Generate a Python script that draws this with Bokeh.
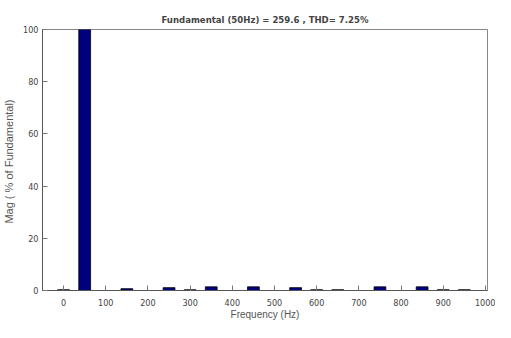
from bokeh.plotting import figure
from bokeh.models import Range1d, FixedTicker, ColumnDataSource
from bokeh.embed import file_html
from bokeh.resources import INLINE

freqs = [0, 50, 100, 150, 200, 250, 300, 350, 400, 450, 500, 550, 600, 650, 700, 750, 800, 850, 900, 950]
mags = [0.3, 100, 0.0, 0.7, 0.0, 1.1, 0.3, 1.4, 0.0, 1.4, 0.0, 1.1, 0.3, 0.3, 0.0, 1.4, 0.0, 1.4, 0.3, 0.3]
x_ticks = [0, 100, 200, 300, 400, 500, 600, 700, 800, 900, 1000]
y_ticks = [0, 20, 40, 60, 80, 100]
title_text = "Fundamental (50Hz) = 259.6 , THD= 7.25%"

NARROW = "'Liberation Sans Narrow', 'DejaVu Sans Condensed', 'Liberation Sans', sans-serif"

src = ColumnDataSource(dict(f=freqs, m=mags))

p = figure(width=495, height=322, output_backend="svg", toolbar_location=None,
           x_range=Range1d(-50, 1005), y_range=Range1d(0, 100),
           min_border_left=33, min_border_top=29, min_border_bottom=31, min_border_right=8)

p.vbar(x="f", top="m", width=28, source=src, fill_color="#00007F", line_color="black", line_width=0.8)

p.title.text = title_text
p.title.align = "center"
p.title.text_font = NARROW
p.title.text_font_size = "9.5px"
p.title.text_font_style = "bold"
p.title.offset = 0
p.title.standoff = 9

p.xgrid.visible = False
p.ygrid.visible = False
p.outline_line_color = "#888888"

for ax in (p.xaxis[0], p.yaxis[0]):
    ax.axis_line_color = "#555555"
    ax.major_tick_line_color = "#777777"
    ax.major_tick_in = 5
    ax.major_tick_out = 0
    ax.minor_tick_line_color = None
    ax.major_label_text_font = NARROW
    ax.major_label_text_font_size = "9px"
    ax.major_label_text_color = "#444444"
    ax.axis_label_text_font = "Liberation Sans"
    ax.axis_label_text_font_size = "10px"
    ax.axis_label_text_font_style = "normal"
    ax.axis_label_text_color = "#555555"

p.yaxis.axis_label_text_font_size = "11px"
p.xaxis.ticker = FixedTicker(ticks=x_ticks)
p.yaxis.ticker = FixedTicker(ticks=y_ticks)
p.xaxis.axis_label = "Frequency (Hz)"
p.yaxis.axis_label = "Mag  ( % of Fundamental)"
p.xaxis.major_label_standoff = 8
p.yaxis.major_label_standoff = 4
p.xaxis.axis_label_standoff = 0
p.yaxis.axis_label_standoff = 5

open("out.html", "w").write(file_html(p, INLINE))
